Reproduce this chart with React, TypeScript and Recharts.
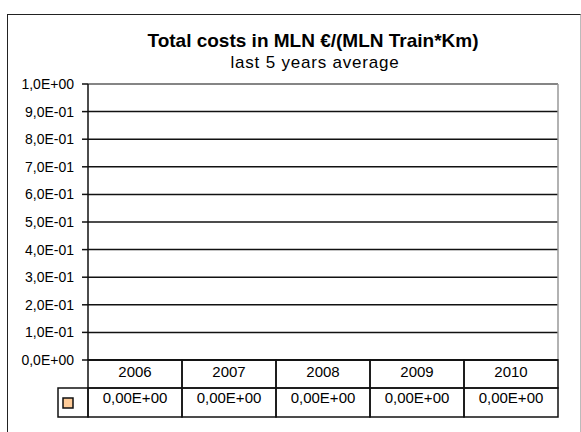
import { BarChart, Bar, XAxis, YAxis, CartesianGrid } from "recharts"

const years = ["2006", "2007", "2008", "2009", "2010"]
const costs = [0, 0, 0, 0, 0]
const yTicks = [0, 0.1, 0.2, 0.3, 0.4, 0.5, 0.6, 0.7, 0.8, 0.9, 1]

const chartData = years.map((year, i) => ({ year, cost: costs[i] }))

const W = 581
const H = 432
const MARGIN = { top: 84, right: 23, left: 8, bottom: 15 }
const Y_AXIS_W = 80
const PLOT_LEFT = MARGIN.left + Y_AXIS_W
const PLOT_RIGHT = W - MARGIN.right
const COL_W = (PLOT_RIGHT - PLOT_LEFT) / years.length
const ROW1 = 28
const ROW2 = 29
const KEY_W = 30
const FONT = "'Liberation Sans', Arial, sans-serif"
const LINE = "#111"

// excel style: 1,0E-01
function sci(v: number, digits: number) {
  const [m, e] = v.toExponential(digits).split("e")
  const sign = e.startsWith("-") ? "-" : "+"
  const exp = e.replace(/[+-]/, "").padStart(2, "0")
  return `${m.replace(".", ",")}E${sign}${exp}`
}

function TableTick(props: any) {
  const { x, y, index } = props
  const left = x - COL_W / 2
  return (
    <g>
      <rect x={left} y={y} width={COL_W} height={ROW1} fill="none" stroke={LINE} strokeWidth={1.5} />
      <text x={x} y={y + 17} textAnchor="middle" fontSize={15} fontFamily={FONT} fill="#000">
        {years[index]}
      </text>
      <rect x={left} y={y + ROW1} width={COL_W} height={ROW2} fill="none" stroke={LINE} strokeWidth={1.5} />
      <text x={x} y={y + ROW1 + 15} textAnchor="middle" fontSize={15} fontFamily={FONT} fill="#000">
        {sci(costs[index], 2)}
      </text>
      {index === 0 && (
        <g>
          <rect x={left - KEY_W} y={y + ROW1} width={KEY_W} height={ROW2} fill="none" stroke={LINE} strokeWidth={1.5} />
          <rect x={left - KEY_W + 5} y={y + ROW1 + 10} width={10} height={10} fill="#FFCC99" stroke="#111" strokeWidth={1.5} />
        </g>
      )}
    </g>
  )
}

export default function App() {
  return (
    <div style={{ position: "absolute", left: 0, top: 0, width: W, height: H, background: "#fff", overflow: "hidden" }}>
      <div
        style={{
          position: "absolute",
          left: 7,
          top: 14,
          width: 572,
          height: 440,
          borderLeft: "1.5px solid #222",
          borderTop: "1.5px solid #222",
          borderRight: "1px solid #bbb",
        }}
      />
      <div
        style={{
          position: "absolute",
          left: 113,
          width: 400,
          top: 31,
          textAlign: "center",
          fontFamily: FONT,
          fontWeight: "bold",
          fontSize: 19,
          lineHeight: "19px",
          color: "#000",
        }}
      >
        Total costs in MLN €/(MLN Train*Km)
      </div>
      <div
        style={{
          position: "absolute",
          left: 115,
          width: 400,
          top: 54,
          textAlign: "center",
          fontFamily: FONT,
          fontSize: 17,
          lineHeight: "17px",
          letterSpacing: 0.8,
          color: "#000",
        }}
      >
        last 5 years average
      </div>
      <BarChart width={W} height={H} data={chartData} margin={MARGIN} style={{ position: "absolute", left: 0, top: 0 }}>
        <CartesianGrid vertical={false} stroke={LINE} strokeWidth={1.5} />
        <CartesianGrid horizontal={false} verticalPoints={[PLOT_RIGHT]} stroke="#999" strokeWidth={1.5} />
        <CartesianGrid vertical={false} horizontalPoints={[MARGIN.top]} stroke="#999" strokeWidth={1.5} />
        <XAxis
          dataKey="year"
          interval={0}
          height={57}
          tickLine={false}
          tickSize={0}
          tickMargin={0}
          axisLine={{ stroke: LINE, strokeWidth: 1.5 }}
          tick={<TableTick />}
        />
        <YAxis
          width={Y_AXIS_W}
          domain={[0, 1]}
          ticks={yTicks}
          tickFormatter={(v: number) => sci(v, 1)}
          tickSize={6}
          tickMargin={8}
          tickLine={{ stroke: LINE, strokeWidth: 1.5 }}
          axisLine={{ stroke: LINE, strokeWidth: 1.5 }}
          tick={{ fill: "#000", fontSize: 14, fontFamily: FONT }}
        />
        <Bar dataKey="cost" fill="#FFCC99" stroke="#000" isAnimationActive={false} />
      </BarChart>
    </div>
  )
}
